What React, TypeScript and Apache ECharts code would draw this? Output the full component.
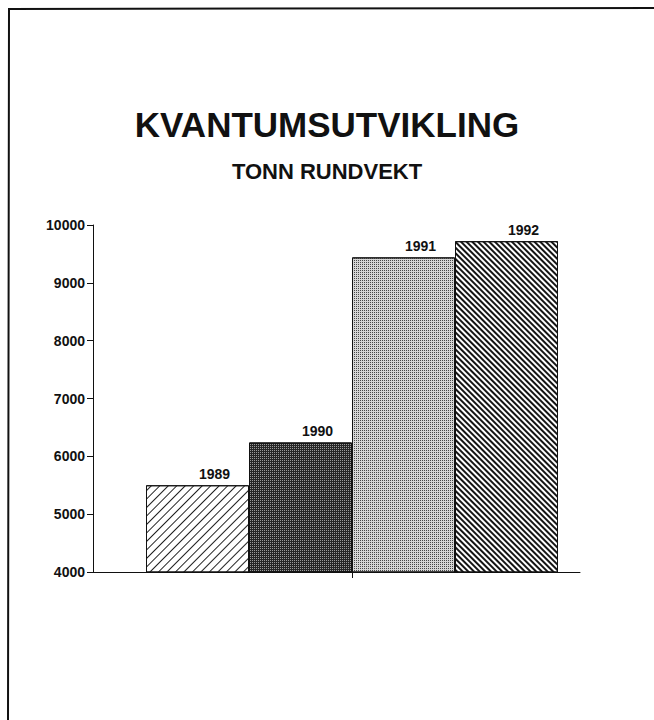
import React, { useEffect, useRef } from "react";
import * as echarts from "echarts";

const titleText = "KVANTUMSUTVIKLING";
const subtitleText = "TONN RUNDVEKT";
const categories = ["1989", "1990", "1991", "1992"];
const values = [5500, 6240, 9440, 9720];
const yMin = 4000;
const yMax = 10000;
const yStep = 1000;
// baseline axis extent, in bar-width units (0 = left edge of first bar)
const baseLineMin = -0.515;
const baseLineMax = 4.214;
const baseTickValues = [2];

const FONT = "'Liberation Sans', Arial, Helvetica, sans-serif";

const barStyles = [
  {
    color: "#ffffff",
    decal: { symbol: "rect", symbolSize: 1, color: "#222222", dashArrayX: [1, 0], dashArrayY: [1, 5], rotation: -Math.PI / 4 },
  },
  {
    color: "#262626",
    decal: { symbol: "rect", symbolSize: 1, color: "#9a9a9a", dashArrayX: [1, 1], dashArrayY: [1, 1], rotation: 0 },
  },
  {
    color: "#d6d6d6",
    decal: { symbol: "rect", symbolSize: 1, color: "#484848", dashArrayX: [1, 1], dashArrayY: [1, 1], rotation: 0 },
  },
  {
    color: "#ffffff",
    decal: { symbol: "rect", symbolSize: 1, color: "#151515", dashArrayX: [1, 0], dashArrayY: [1.5, 1.5], rotation: Math.PI / 4 },
  },
];

export default function App() {
  const ref = useRef<HTMLDivElement>(null);
  useEffect(() => {
    if (!ref.current) return;
    const chart = echarts.init(ref.current, null, { renderer: "svg" });
    const gridTop = 225;
    const gridBottom = 148;
    chart.setOption({
      animation: false,
      backgroundColor: "#ffffff",
      title: [
        {
          text: titleText,
          left: "center",
          top: 102,
          textStyle: { fontFamily: FONT, fontSize: 35, fontWeight: "bold", color: "#111" },
        },
        {
          text: subtitleText,
          left: "center",
          top: 155,
          textStyle: { fontFamily: FONT, fontSize: 22, fontWeight: "bold", color: "#111" },
        },
      ],
      grid: [
        { left: 146, right: 96, top: gridTop, bottom: gridBottom, containLabel: false },
        { left: 93, right: 74, top: gridTop, bottom: gridBottom, containLabel: false },
      ],
      xAxis: [
        {
          type: "category",
          gridIndex: 0,
          data: categories,
          boundaryGap: true,
          axisLine: { show: false },
          axisTick: { show: false },
          axisLabel: { show: false },
          splitLine: { show: false },
        },
        {
          type: "value",
          gridIndex: 1,
          min: baseLineMin,
          max: baseLineMax,
          axisLine: { show: true, lineStyle: { color: "#111", width: 1 } },
          axisTick: {
            show: true,
            length: 6,
            customValues: baseTickValues,
            lineStyle: { color: "#111", width: 1 },
          },
          axisLabel: { show: false },
          splitLine: { show: false },
        },
      ],
      yAxis: [
        {
          type: "value",
          gridIndex: 0,
          min: yMin,
          max: yMax,
          interval: yStep,
          offset: 53,
          axisLine: { show: true, lineStyle: { color: "#111", width: 1 } },
          axisTick: { show: true, length: 6, lineStyle: { color: "#111", width: 1 } },
          axisLabel: {
            fontFamily: FONT,
            fontSize: 14,
            fontWeight: "bold",
            color: "#111",
            margin: 8,
            formatter: (v: number) => String(v),
          },
          splitLine: { show: false },
        },
        { type: "value", gridIndex: 1, show: false, min: 0, max: 1 },
      ],
      series: [
        {
          type: "bar",
          xAxisIndex: 0,
          yAxisIndex: 0,
          barCategoryGap: 0,
          data: values.map((v, i) => ({
            value: v,
            itemStyle: {
              color: barStyles[i].color,
              borderColor: "#111",
              borderWidth: 1,
              decal: barStyles[i].decal,
            },
          })),
          label: {
            show: true,
            position: "top",
            distance: 4,
            offset: [17, 0],
            formatter: "{b}",
            fontFamily: FONT,
            fontSize: 14,
            fontWeight: "bold",
            color: "#111",
          },
        },
      ],
      graphic: [
        {
          type: "polyline",
          shape: { points: [[8, 720], [9, 9], [654, 8]] },
          style: { stroke: "#111", lineWidth: 2, fill: null },
          silent: true,
        },
      ],
    });
    return () => chart.dispose();
  }, []);
  return (
    <div
      ref={ref}
      style={{ position: "fixed", left: 0, top: 0, width: 654, height: 720 }}
    />
  );
}
